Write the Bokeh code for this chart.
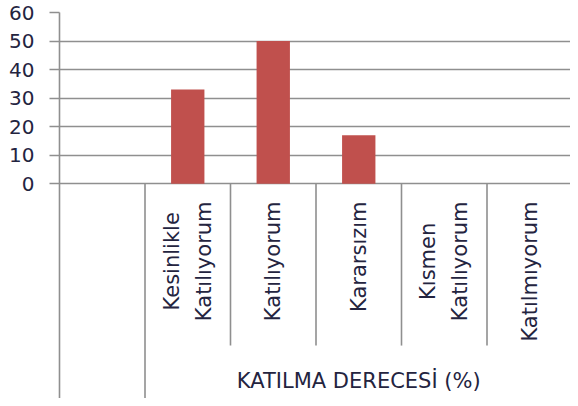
from bokeh.plotting import figure
from bokeh.models import Range1d, FixedTicker, ColumnDataSource
from bokeh.core.properties import value
from bokeh.embed import file_html
from bokeh.resources import INLINE

# ---- data ----
categories = ["", "Kesinlikle\nKatılıyorum", "Katılıyorum", "Kararsızım",
              "Kısmen\nKatılıyorum", "Katılmıyorum"]
values = [0, 33, 50, 17, 0, 0]
y_ticks = [0, 10, 20, 30, 40, 50, 60]
group_label = "KATILMA DERECESİ (%)"
group_first = 1  # index of first category inside the group

# ---- style ----
BAR = "#C0504D"
GRID = "#8f8f8f"
TXT = "#24243f"
FONT = "DejaVu Sans"

W, H = 570, 398
sx, sy = W / 578.0, H / 406.0
left = round(60 * sx)
top = round(12 * sy)
zero_px = 187 * sy
n = len(categories)
y_top = y_ticks[-1]
px_per_unit = (zero_px - top) / y_top
frame_h = H - top
y_bottom = y_top - frame_h / px_per_unit
cat_px = 86.7 * sx
frame_w = W - left

p = figure(width=W, height=H, output_backend="svg", toolbar_location=None,
           x_range=Range1d(0, frame_w / cat_px), y_range=Range1d(y_bottom, y_top),
           x_axis_location=None, min_border_left=left, min_border_top=top,
           min_border_right=0, min_border_bottom=0)
p.outline_line_color = None
p.background_fill_color = "white"
p.border_fill_color = "white"

# y axis
p.yaxis.ticker = FixedTicker(ticks=y_ticks)
p.yaxis.axis_line_color = GRID
p.yaxis.axis_line_width = 1.6
p.yaxis.major_tick_line_color = GRID
p.yaxis.major_tick_line_width = 1.6
p.yaxis.major_tick_out = 10
p.yaxis.major_tick_in = 0
p.yaxis.minor_tick_line_color = None
p.yaxis.major_label_standoff = 15
p.yaxis.major_label_text_font = FONT
p.yaxis.major_label_text_font_size = "20px"
p.yaxis.major_label_text_color = TXT
p.xgrid.visible = False
p.ygrid.ticker = FixedTicker(ticks=y_ticks)
p.ygrid.grid_line_color = GRID
p.ygrid.grid_line_width = 1.6

# bars
xs = [i + 0.5 for i in range(n)]
src = ColumnDataSource(dict(x=xs, top=values, label=categories))
p.vbar(x="x", top="top", bottom=0, width=0.39, source=src,
       fill_color=BAR, line_color=None)

# category separators below the axis
inner_bottom = -(352 - 187) * sy / px_per_unit
sep_x0, sep_y0, sep_y1 = [], [], []
for b in range(1, n + 1):
    sep_x0.append(b)
    sep_y0.append(0)
    sep_y1.append(y_bottom if b <= group_first or b == n else inner_bottom)
p.segment(x0=sep_x0, y0=sep_y0, x1=sep_x0, y1=sep_y1,
          line_color=GRID, line_width=1.6)

# category labels (rotated)
label_top = -(205 - 187) * sy / px_per_unit
p.text(x="x", y=label_top, text="label", source=src, angle=1.5707963,
       anchor="center_right", text_align="center",
       text_font=value(FONT), text_font_size="21px", text_color=TXT,
       text_line_height=1.35)

# group label
gx = (group_first + n) / 2.0
gy = -(388 - 187) * sy / px_per_unit
p.text(x=[gx], y=[gy], text=[group_label], text_align="center",
       text_baseline="middle", text_font=value(FONT),
       text_font_size="21px", text_color=TXT)

open("out.html", "w").write(file_html(p, INLINE))
